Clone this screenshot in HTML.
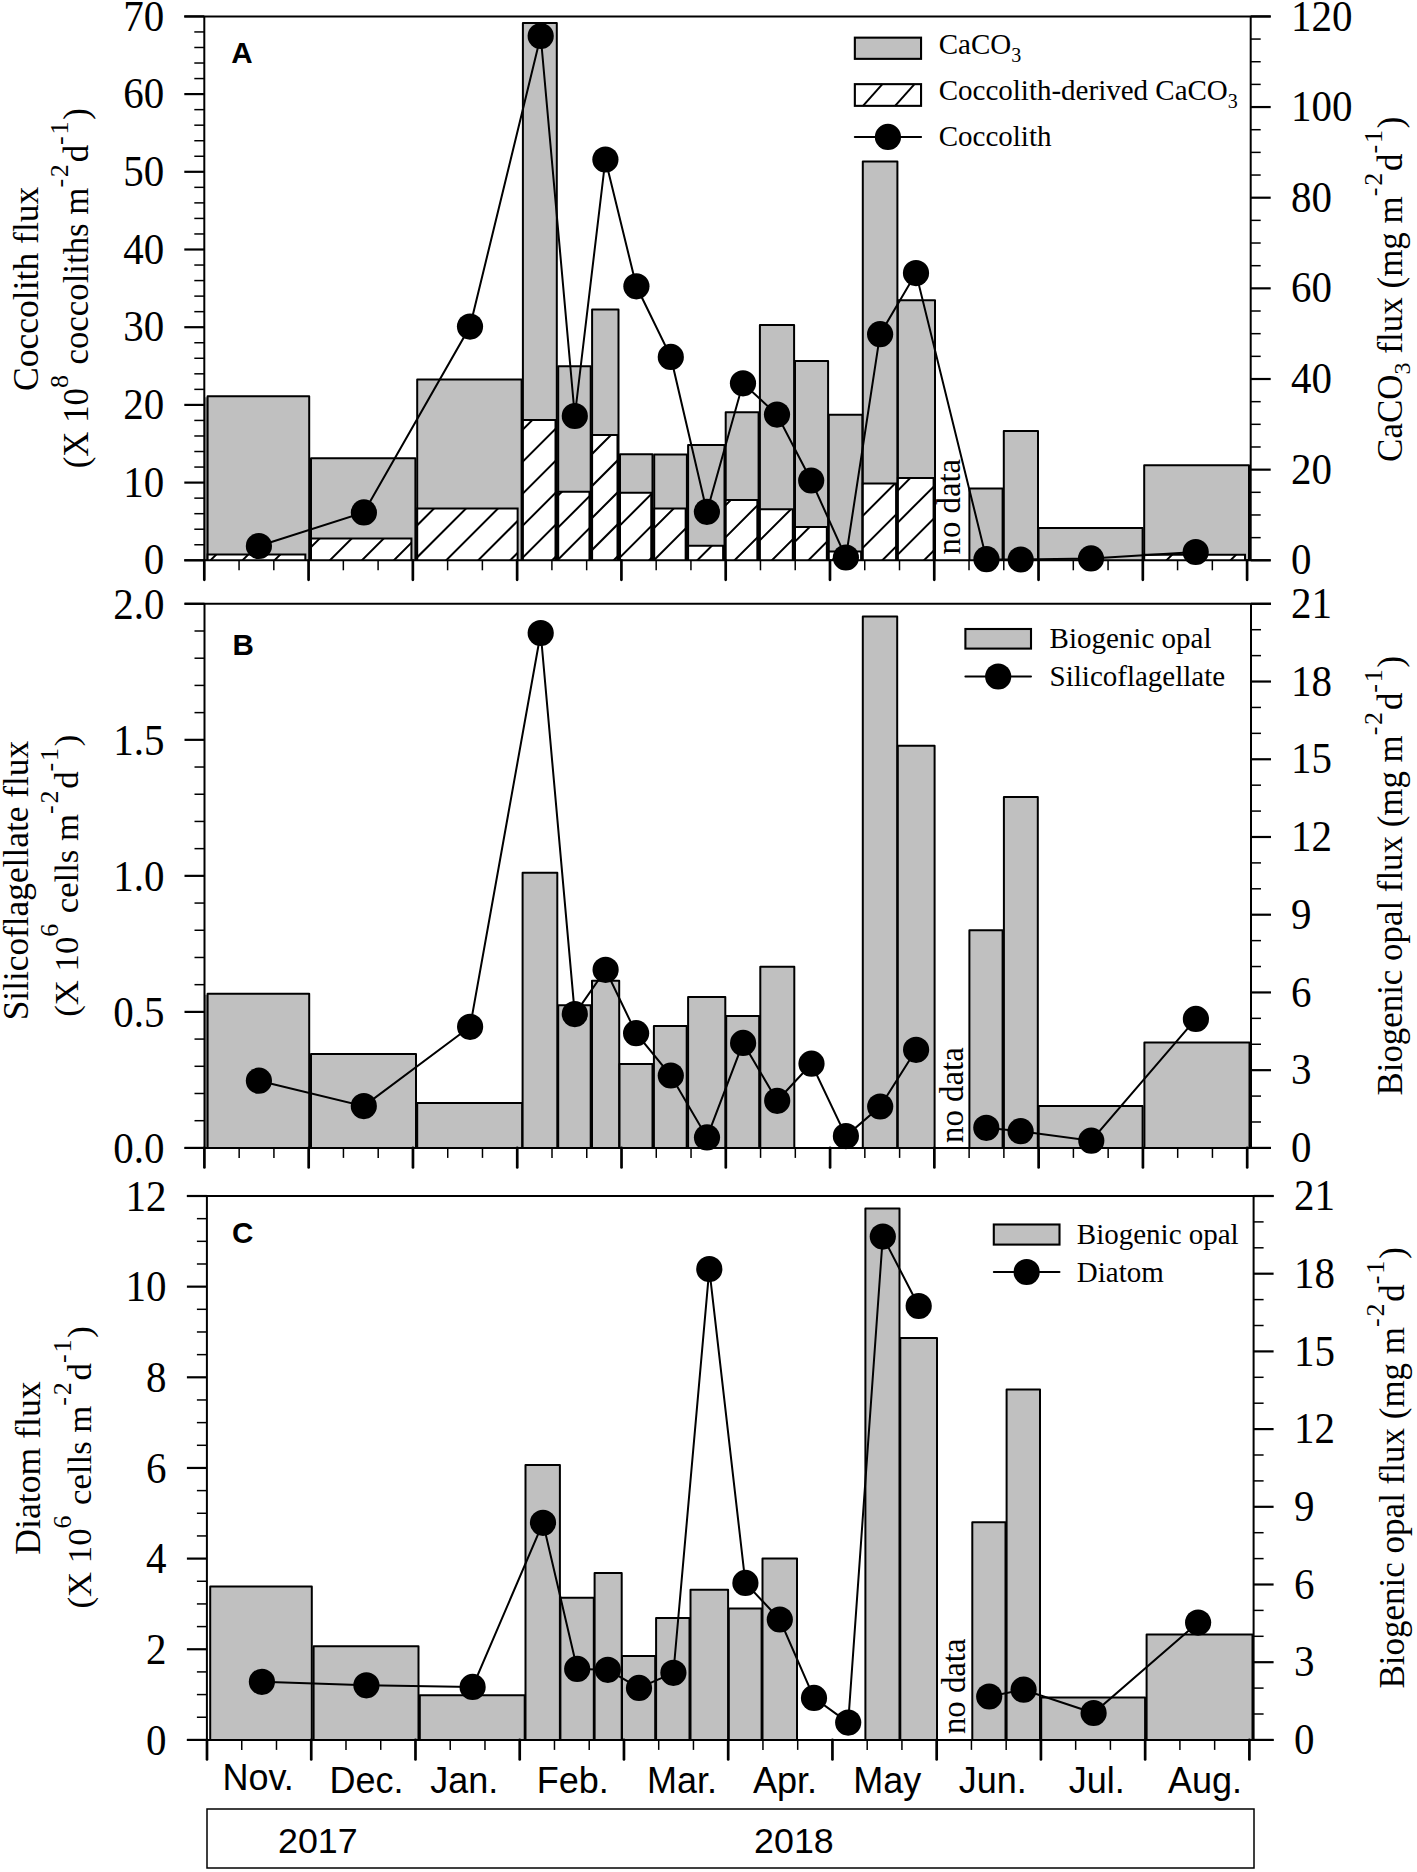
<!DOCTYPE html><html><head><meta charset="utf-8"><style>html,body{margin:0;padding:0;background:#fff;}svg{display:block;}</style></head><body><svg width="1417" height="1872" viewBox="0 0 1417 1872">
<rect width="1417" height="1872" fill="#fff"/>
<rect x="204.3" y="397.3" width="3.3" height="163" fill="#999"/>
<path d="M207.6 560.3V396.3H309.2V560.3" fill="#c0c0c0" stroke="#000" stroke-width="2.0" stroke-linejoin="round"/>
<path d="M311 560.3V458.3H415.4V560.3" fill="#c0c0c0" stroke="#000" stroke-width="2.0" stroke-linejoin="round"/>
<path d="M417.2 560.3V379.6H521.6V560.3" fill="#c0c0c0" stroke="#000" stroke-width="2.0" stroke-linejoin="round"/>
<path d="M522.9 560.3V23.1H556.8V560.3" fill="#c0c0c0" stroke="#000" stroke-width="2.0" stroke-linejoin="round"/>
<path d="M558.2 560.3V366.2H590.7V560.3" fill="#c0c0c0" stroke="#000" stroke-width="2.0" stroke-linejoin="round"/>
<path d="M592.1 560.3V309.6H618.5V560.3" fill="#c0c0c0" stroke="#000" stroke-width="2.0" stroke-linejoin="round"/>
<path d="M620 560.3V454.2H652.5V560.3" fill="#c0c0c0" stroke="#000" stroke-width="2.0" stroke-linejoin="round"/>
<path d="M654.2 560.3V454.5H686.9V560.3" fill="#c0c0c0" stroke="#000" stroke-width="2.0" stroke-linejoin="round"/>
<path d="M688.1 560.3V444.9H724.5V560.3" fill="#c0c0c0" stroke="#000" stroke-width="2.0" stroke-linejoin="round"/>
<path d="M725.7 560.3V412.3H758.6V560.3" fill="#c0c0c0" stroke="#000" stroke-width="2.0" stroke-linejoin="round"/>
<path d="M759.9 560.3V324.9H794.1V560.3" fill="#c0c0c0" stroke="#000" stroke-width="2.0" stroke-linejoin="round"/>
<path d="M795 560.3V360.9H828.1V560.3" fill="#c0c0c0" stroke="#000" stroke-width="2.0" stroke-linejoin="round"/>
<path d="M828.8 560.3V414.8H862.4V560.3" fill="#c0c0c0" stroke="#000" stroke-width="2.0" stroke-linejoin="round"/>
<path d="M862.8 560.3V161.5H897.4V560.3" fill="#c0c0c0" stroke="#000" stroke-width="2.0" stroke-linejoin="round"/>
<path d="M897.9 560.3V300.3H935V560.3" fill="#c0c0c0" stroke="#000" stroke-width="2.0" stroke-linejoin="round"/>
<path d="M969.4 560.3V488.6H1002.6V560.3" fill="#c0c0c0" stroke="#000" stroke-width="2.0" stroke-linejoin="round"/>
<path d="M1003.8 560.3V431H1038V560.3" fill="#c0c0c0" stroke="#000" stroke-width="2.0" stroke-linejoin="round"/>
<path d="M1038.5 560.3V527.9H1142.6V560.3" fill="#c0c0c0" stroke="#000" stroke-width="2.0" stroke-linejoin="round"/>
<path d="M1144.2 560.3V465.3H1249V560.3" fill="#c0c0c0" stroke="#000" stroke-width="2.0" stroke-linejoin="round"/>
<clipPath id="hc1"><rect x="207.6" y="554.4" width="97.74" height="5.9"/></clipPath>
<path d="M207.6 560.3V554.4H305.34V560.3Z" fill="#fff"/>
<path clip-path="url(#hc1)" d="M207.5 563.3L219.4 551.4M239.5 563.3L251.4 551.4M271.5 563.3L283.4 551.4M303.5 563.3L315.4 551.4" stroke="#000" stroke-width="2" fill="none"/>
<path d="M207.6 560.3V554.4H305.34V560.3" fill="none" stroke="#000" stroke-width="2.0"/>
<clipPath id="hc2"><rect x="311" y="538.6" width="100.43" height="21.7"/></clipPath>
<path d="M311 560.3V538.6H411.43V560.3Z" fill="#fff"/>
<path clip-path="url(#hc2)" d="M294.9 563.3L322.6 535.6M326.9 563.3L354.6 535.6M358.9 563.3L386.6 535.6M390.9 563.3L418.6 535.6" stroke="#000" stroke-width="2" fill="none"/>
<path d="M311 560.3V538.6H411.43V560.3" fill="none" stroke="#000" stroke-width="2.0"/>
<clipPath id="hc3"><rect x="417.2" y="508.6" width="100.43" height="51.7"/></clipPath>
<path d="M417.2 560.3V508.6H517.63V560.3Z" fill="#fff"/>
<path clip-path="url(#hc3)" d="M379.2 563.3L436.9 505.6M411.2 563.3L468.9 505.6M443.2 563.3L500.9 505.6M475.2 563.3L532.9 505.6M507.2 563.3L564.9 505.6" stroke="#000" stroke-width="2" fill="none"/>
<path d="M417.2 560.3V508.6H517.63V560.3" fill="none" stroke="#000" stroke-width="2.0"/>
<clipPath id="hc4"><rect x="522.9" y="419.9" width="32.61" height="140.4"/></clipPath>
<path d="M522.9 560.3V419.9H555.51V560.3Z" fill="#fff"/>
<path clip-path="url(#hc4)" d="M389.1 563.3L535.5 416.9M421.1 563.3L567.5 416.9M453.1 563.3L599.5 416.9M485.1 563.3L631.5 416.9M517.1 563.3L663.5 416.9M549.1 563.3L695.5 416.9" stroke="#000" stroke-width="2" fill="none"/>
<path d="M522.9 560.3V419.9H555.51V560.3" fill="none" stroke="#000" stroke-width="2.0"/>
<clipPath id="hc5"><rect x="558.2" y="491.8" width="31.26" height="68.5"/></clipPath>
<path d="M558.2 560.3V491.8H589.47V560.3Z" fill="#fff"/>
<path clip-path="url(#hc5)" d="M490.4 563.3L564.9 488.8M522.4 563.3L596.9 488.8M554.4 563.3L628.9 488.8M586.4 563.3L660.9 488.8" stroke="#000" stroke-width="2" fill="none"/>
<path d="M558.2 560.3V491.8H589.47V560.3" fill="none" stroke="#000" stroke-width="2.0"/>
<clipPath id="hc6"><rect x="592.1" y="435.1" width="25.4" height="125.2"/></clipPath>
<path d="M592.1 560.3V435.1H617.5V560.3Z" fill="#fff"/>
<path clip-path="url(#hc6)" d="M482.7 563.3L613.9 432.1M514.7 563.3L645.9 432.1M546.7 563.3L677.9 432.1M578.7 563.3L709.9 432.1M610.7 563.3L741.9 432.1" stroke="#000" stroke-width="2" fill="none"/>
<path d="M592.1 560.3V435.1H617.5V560.3" fill="none" stroke="#000" stroke-width="2.0"/>
<clipPath id="hc7"><rect x="620" y="492.8" width="31.26" height="67.5"/></clipPath>
<path d="M620 560.3V492.8H651.26V560.3Z" fill="#fff"/>
<path clip-path="url(#hc7)" d="M550.1 563.3L623.6 489.8M582.1 563.3L655.6 489.8M614.1 563.3L687.6 489.8M646.1 563.3L719.6 489.8" stroke="#000" stroke-width="2" fill="none"/>
<path d="M620 560.3V492.8H651.26V560.3" fill="none" stroke="#000" stroke-width="2.0"/>
<clipPath id="hc8"><rect x="654.2" y="508.4" width="31.46" height="51.9"/></clipPath>
<path d="M654.2 560.3V508.4H685.66V560.3Z" fill="#fff"/>
<path clip-path="url(#hc8)" d="M618.9 563.3L676.8 505.4M650.9 563.3L708.8 505.4M682.9 563.3L740.8 505.4" stroke="#000" stroke-width="2" fill="none"/>
<path d="M654.2 560.3V508.4H685.66V560.3" fill="none" stroke="#000" stroke-width="2.0"/>
<clipPath id="hc9"><rect x="688.1" y="545.7" width="35.02" height="14.6"/></clipPath>
<path d="M688.1 560.3V545.7H723.12V560.3Z" fill="#fff"/>
<path clip-path="url(#hc9)" d="M694.3 563.3L714.9 542.7" stroke="#000" stroke-width="2" fill="none"/>
<path d="M688.1 560.3V545.7H723.12V560.3" fill="none" stroke="#000" stroke-width="2.0"/>
<clipPath id="hc10"><rect x="725.7" y="499.9" width="31.65" height="60.4"/></clipPath>
<path d="M725.7 560.3V499.9H757.35V560.3Z" fill="#fff"/>
<path clip-path="url(#hc10)" d="M667.5 563.3L733.9 496.9M699.5 563.3L765.9 496.9M731.5 563.3L797.9 496.9" stroke="#000" stroke-width="2" fill="none"/>
<path d="M725.7 560.3V499.9H757.35V560.3" fill="none" stroke="#000" stroke-width="2.0"/>
<clipPath id="hc11"><rect x="759.9" y="509.2" width="32.9" height="51.1"/></clipPath>
<path d="M759.9 560.3V509.2H792.8V560.3Z" fill="#fff"/>
<path clip-path="url(#hc11)" d="M704.9 563.3L762 506.2M736.9 563.3L794 506.2M768.9 563.3L826 506.2" stroke="#000" stroke-width="2" fill="none"/>
<path d="M759.9 560.3V509.2H792.8V560.3" fill="none" stroke="#000" stroke-width="2.0"/>
<clipPath id="hc12"><rect x="795" y="527" width="31.84" height="33.3"/></clipPath>
<path d="M795 560.3V527H826.84V560.3Z" fill="#fff"/>
<path clip-path="url(#hc12)" d="M773.4 563.3L812.7 524M805.4 563.3L844.7 524" stroke="#000" stroke-width="2" fill="none"/>
<path d="M795 560.3V527H826.84V560.3" fill="none" stroke="#000" stroke-width="2.0"/>
<clipPath id="hc13"><rect x="828.8" y="551.6" width="32.32" height="8.7"/></clipPath>
<path d="M828.8 560.3V551.6H861.12V560.3Z" fill="#fff"/>
<path clip-path="url(#hc13)" d="M829.1 563.3L843.8 548.6M861.1 563.3L875.8 548.6" stroke="#000" stroke-width="2" fill="none"/>
<path d="M828.8 560.3V551.6H861.12V560.3" fill="none" stroke="#000" stroke-width="2.0"/>
<clipPath id="hc14"><rect x="862.8" y="483.5" width="33.29" height="76.8"/></clipPath>
<path d="M862.8 560.3V483.5H896.09V560.3Z" fill="#fff"/>
<path clip-path="url(#hc14)" d="M783.3 563.3L866.1 480.5M815.3 563.3L898.1 480.5M847.3 563.3L930.1 480.5M879.3 563.3L962.1 480.5" stroke="#000" stroke-width="2" fill="none"/>
<path d="M862.8 560.3V483.5H896.09V560.3" fill="none" stroke="#000" stroke-width="2.0"/>
<clipPath id="hc15"><rect x="897.9" y="477.9" width="35.69" height="82.4"/></clipPath>
<path d="M897.9 560.3V477.9H933.59V560.3Z" fill="#fff"/>
<path clip-path="url(#hc15)" d="M825 563.3L913.4 474.9M857 563.3L945.4 474.9M889 563.3L977.4 474.9M921 563.3L1009.4 474.9" stroke="#000" stroke-width="2" fill="none"/>
<path d="M897.9 560.3V477.9H933.59V560.3" fill="none" stroke="#000" stroke-width="2.0"/>
<clipPath id="hc16"><rect x="1144.2" y="554.8" width="100.82" height="5.5"/></clipPath>
<path d="M1144.2 560.3V554.8H1245.02V560.3Z" fill="#fff"/>
<path clip-path="url(#hc16)" d="M1131.5 563.3L1143 551.8M1163.5 563.3L1175 551.8M1195.5 563.3L1207 551.8M1227.5 563.3L1239 551.8" stroke="#000" stroke-width="2" fill="none"/>
<path d="M1144.2 560.3V554.8H1245.02V560.3" fill="none" stroke="#000" stroke-width="2.0"/>
<path d="M258.9 546L363.9 512.4L470 326.6L540.7 36L574.8 416L605.4 159.5L636.4 286.3L670.8 356.9L706.9 511.8L743 383.3L777 414.6L811.2 480.5L845.9 557.5L880.1 334.2L916 273.1L986.5 559.2L1020.7 559.5L1091 558.4L1195.7 552" fill="none" stroke="#000" stroke-width="2.0" stroke-linejoin="miter"/>
<circle cx="258.9" cy="546" r="13.1"/>
<circle cx="363.9" cy="512.4" r="13.1"/>
<circle cx="470" cy="326.6" r="13.1"/>
<circle cx="540.7" cy="36" r="13.1"/>
<circle cx="574.8" cy="416" r="13.1"/>
<circle cx="605.4" cy="159.5" r="13.1"/>
<circle cx="636.4" cy="286.3" r="13.1"/>
<circle cx="670.8" cy="356.9" r="13.1"/>
<circle cx="706.9" cy="511.8" r="13.1"/>
<circle cx="743" cy="383.3" r="13.1"/>
<circle cx="777" cy="414.6" r="13.1"/>
<circle cx="811.2" cy="480.5" r="13.1"/>
<circle cx="845.9" cy="557.5" r="13.1"/>
<circle cx="880.1" cy="334.2" r="13.1"/>
<circle cx="916" cy="273.1" r="13.1"/>
<circle cx="986.5" cy="559.2" r="13.1"/>
<circle cx="1020.7" cy="559.5" r="13.1"/>
<circle cx="1091" cy="558.4" r="13.1"/>
<circle cx="1195.7" cy="552" r="13.1"/>
<line x1="184.3" y1="16.4" x2="1270.7" y2="16.4" stroke="#000" stroke-width="2.0" stroke-linecap="butt"/>
<line x1="184.3" y1="560.3" x2="1270.7" y2="560.3" stroke="#000" stroke-width="2.0" stroke-linecap="butt"/>
<line x1="204.3" y1="16.4" x2="204.3" y2="560.3" stroke="#000" stroke-width="2.0" stroke-linecap="butt"/>
<line x1="1250.7" y1="16.4" x2="1250.7" y2="560.3" stroke="#000" stroke-width="2.0" stroke-linecap="butt"/>
<line x1="184.3" y1="560.3" x2="204.3" y2="560.3" stroke="#000" stroke-width="2.2" stroke-linecap="butt"/>
<line x1="194.3" y1="544.76" x2="204.3" y2="544.76" stroke="#000" stroke-width="1.5" stroke-linecap="butt"/>
<line x1="194.3" y1="529.22" x2="204.3" y2="529.22" stroke="#000" stroke-width="1.5" stroke-linecap="butt"/>
<line x1="194.3" y1="513.68" x2="204.3" y2="513.68" stroke="#000" stroke-width="1.5" stroke-linecap="butt"/>
<line x1="194.3" y1="498.14" x2="204.3" y2="498.14" stroke="#000" stroke-width="1.5" stroke-linecap="butt"/>
<line x1="184.3" y1="482.6" x2="204.3" y2="482.6" stroke="#000" stroke-width="2.2" stroke-linecap="butt"/>
<line x1="194.3" y1="467.06" x2="204.3" y2="467.06" stroke="#000" stroke-width="1.5" stroke-linecap="butt"/>
<line x1="194.3" y1="451.52" x2="204.3" y2="451.52" stroke="#000" stroke-width="1.5" stroke-linecap="butt"/>
<line x1="194.3" y1="435.98" x2="204.3" y2="435.98" stroke="#000" stroke-width="1.5" stroke-linecap="butt"/>
<line x1="194.3" y1="420.44" x2="204.3" y2="420.44" stroke="#000" stroke-width="1.5" stroke-linecap="butt"/>
<line x1="184.3" y1="404.9" x2="204.3" y2="404.9" stroke="#000" stroke-width="2.2" stroke-linecap="butt"/>
<line x1="194.3" y1="389.36" x2="204.3" y2="389.36" stroke="#000" stroke-width="1.5" stroke-linecap="butt"/>
<line x1="194.3" y1="373.82" x2="204.3" y2="373.82" stroke="#000" stroke-width="1.5" stroke-linecap="butt"/>
<line x1="194.3" y1="358.28" x2="204.3" y2="358.28" stroke="#000" stroke-width="1.5" stroke-linecap="butt"/>
<line x1="194.3" y1="342.74" x2="204.3" y2="342.74" stroke="#000" stroke-width="1.5" stroke-linecap="butt"/>
<line x1="184.3" y1="327.2" x2="204.3" y2="327.2" stroke="#000" stroke-width="2.2" stroke-linecap="butt"/>
<line x1="194.3" y1="311.66" x2="204.3" y2="311.66" stroke="#000" stroke-width="1.5" stroke-linecap="butt"/>
<line x1="194.3" y1="296.12" x2="204.3" y2="296.12" stroke="#000" stroke-width="1.5" stroke-linecap="butt"/>
<line x1="194.3" y1="280.58" x2="204.3" y2="280.58" stroke="#000" stroke-width="1.5" stroke-linecap="butt"/>
<line x1="194.3" y1="265.04" x2="204.3" y2="265.04" stroke="#000" stroke-width="1.5" stroke-linecap="butt"/>
<line x1="184.3" y1="249.5" x2="204.3" y2="249.5" stroke="#000" stroke-width="2.2" stroke-linecap="butt"/>
<line x1="194.3" y1="233.96" x2="204.3" y2="233.96" stroke="#000" stroke-width="1.5" stroke-linecap="butt"/>
<line x1="194.3" y1="218.42" x2="204.3" y2="218.42" stroke="#000" stroke-width="1.5" stroke-linecap="butt"/>
<line x1="194.3" y1="202.88" x2="204.3" y2="202.88" stroke="#000" stroke-width="1.5" stroke-linecap="butt"/>
<line x1="194.3" y1="187.34" x2="204.3" y2="187.34" stroke="#000" stroke-width="1.5" stroke-linecap="butt"/>
<line x1="184.3" y1="171.8" x2="204.3" y2="171.8" stroke="#000" stroke-width="2.2" stroke-linecap="butt"/>
<line x1="194.3" y1="156.26" x2="204.3" y2="156.26" stroke="#000" stroke-width="1.5" stroke-linecap="butt"/>
<line x1="194.3" y1="140.72" x2="204.3" y2="140.72" stroke="#000" stroke-width="1.5" stroke-linecap="butt"/>
<line x1="194.3" y1="125.18" x2="204.3" y2="125.18" stroke="#000" stroke-width="1.5" stroke-linecap="butt"/>
<line x1="194.3" y1="109.64" x2="204.3" y2="109.64" stroke="#000" stroke-width="1.5" stroke-linecap="butt"/>
<line x1="184.3" y1="94.1" x2="204.3" y2="94.1" stroke="#000" stroke-width="2.2" stroke-linecap="butt"/>
<line x1="194.3" y1="78.56" x2="204.3" y2="78.56" stroke="#000" stroke-width="1.5" stroke-linecap="butt"/>
<line x1="194.3" y1="63.02" x2="204.3" y2="63.02" stroke="#000" stroke-width="1.5" stroke-linecap="butt"/>
<line x1="194.3" y1="47.48" x2="204.3" y2="47.48" stroke="#000" stroke-width="1.5" stroke-linecap="butt"/>
<line x1="194.3" y1="31.94" x2="204.3" y2="31.94" stroke="#000" stroke-width="1.5" stroke-linecap="butt"/>
<line x1="184.3" y1="16.4" x2="204.3" y2="16.4" stroke="#000" stroke-width="2.2" stroke-linecap="butt"/>
<line x1="1250.7" y1="560.3" x2="1270.7" y2="560.3" stroke="#000" stroke-width="2.2" stroke-linecap="butt"/>
<line x1="1250.7" y1="537.64" x2="1260.7" y2="537.64" stroke="#000" stroke-width="1.5" stroke-linecap="butt"/>
<line x1="1250.7" y1="514.97" x2="1260.7" y2="514.97" stroke="#000" stroke-width="1.5" stroke-linecap="butt"/>
<line x1="1250.7" y1="492.31" x2="1260.7" y2="492.31" stroke="#000" stroke-width="1.5" stroke-linecap="butt"/>
<line x1="1250.7" y1="469.65" x2="1270.7" y2="469.65" stroke="#000" stroke-width="2.2" stroke-linecap="butt"/>
<line x1="1250.7" y1="446.99" x2="1260.7" y2="446.99" stroke="#000" stroke-width="1.5" stroke-linecap="butt"/>
<line x1="1250.7" y1="424.32" x2="1260.7" y2="424.32" stroke="#000" stroke-width="1.5" stroke-linecap="butt"/>
<line x1="1250.7" y1="401.66" x2="1260.7" y2="401.66" stroke="#000" stroke-width="1.5" stroke-linecap="butt"/>
<line x1="1250.7" y1="379" x2="1270.7" y2="379" stroke="#000" stroke-width="2.2" stroke-linecap="butt"/>
<line x1="1250.7" y1="356.34" x2="1260.7" y2="356.34" stroke="#000" stroke-width="1.5" stroke-linecap="butt"/>
<line x1="1250.7" y1="333.67" x2="1260.7" y2="333.67" stroke="#000" stroke-width="1.5" stroke-linecap="butt"/>
<line x1="1250.7" y1="311.01" x2="1260.7" y2="311.01" stroke="#000" stroke-width="1.5" stroke-linecap="butt"/>
<line x1="1250.7" y1="288.35" x2="1270.7" y2="288.35" stroke="#000" stroke-width="2.2" stroke-linecap="butt"/>
<line x1="1250.7" y1="265.69" x2="1260.7" y2="265.69" stroke="#000" stroke-width="1.5" stroke-linecap="butt"/>
<line x1="1250.7" y1="243.02" x2="1260.7" y2="243.02" stroke="#000" stroke-width="1.5" stroke-linecap="butt"/>
<line x1="1250.7" y1="220.36" x2="1260.7" y2="220.36" stroke="#000" stroke-width="1.5" stroke-linecap="butt"/>
<line x1="1250.7" y1="197.7" x2="1270.7" y2="197.7" stroke="#000" stroke-width="2.2" stroke-linecap="butt"/>
<line x1="1250.7" y1="175.04" x2="1260.7" y2="175.04" stroke="#000" stroke-width="1.5" stroke-linecap="butt"/>
<line x1="1250.7" y1="152.38" x2="1260.7" y2="152.38" stroke="#000" stroke-width="1.5" stroke-linecap="butt"/>
<line x1="1250.7" y1="129.71" x2="1260.7" y2="129.71" stroke="#000" stroke-width="1.5" stroke-linecap="butt"/>
<line x1="1250.7" y1="107.05" x2="1270.7" y2="107.05" stroke="#000" stroke-width="2.2" stroke-linecap="butt"/>
<line x1="1250.7" y1="84.39" x2="1260.7" y2="84.39" stroke="#000" stroke-width="1.5" stroke-linecap="butt"/>
<line x1="1250.7" y1="61.72" x2="1260.7" y2="61.72" stroke="#000" stroke-width="1.5" stroke-linecap="butt"/>
<line x1="1250.7" y1="39.06" x2="1260.7" y2="39.06" stroke="#000" stroke-width="1.5" stroke-linecap="butt"/>
<line x1="1250.7" y1="16.4" x2="1270.7" y2="16.4" stroke="#000" stroke-width="2.2" stroke-linecap="butt"/>
<line x1="204.3" y1="560.3" x2="204.3" y2="579.8" stroke="#000" stroke-width="2.7" stroke-linecap="round"/>
<line x1="239.06" y1="560.3" x2="239.06" y2="570.3" stroke="#000" stroke-width="1.5" stroke-linecap="butt"/>
<line x1="273.82" y1="560.3" x2="273.82" y2="570.3" stroke="#000" stroke-width="1.5" stroke-linecap="butt"/>
<line x1="308.58" y1="560.3" x2="308.58" y2="579.8" stroke="#000" stroke-width="2.7" stroke-linecap="round"/>
<line x1="343.34" y1="560.3" x2="343.34" y2="570.3" stroke="#000" stroke-width="1.5" stroke-linecap="butt"/>
<line x1="378.1" y1="560.3" x2="378.1" y2="570.3" stroke="#000" stroke-width="1.5" stroke-linecap="butt"/>
<line x1="412.86" y1="560.3" x2="412.86" y2="579.8" stroke="#000" stroke-width="2.7" stroke-linecap="round"/>
<line x1="447.62" y1="560.3" x2="447.62" y2="570.3" stroke="#000" stroke-width="1.5" stroke-linecap="butt"/>
<line x1="482.38" y1="560.3" x2="482.38" y2="570.3" stroke="#000" stroke-width="1.5" stroke-linecap="butt"/>
<line x1="517.14" y1="560.3" x2="517.14" y2="579.8" stroke="#000" stroke-width="2.7" stroke-linecap="round"/>
<line x1="551.9" y1="560.3" x2="551.9" y2="570.3" stroke="#000" stroke-width="1.5" stroke-linecap="butt"/>
<line x1="586.66" y1="560.3" x2="586.66" y2="570.3" stroke="#000" stroke-width="1.5" stroke-linecap="butt"/>
<line x1="621.42" y1="560.3" x2="621.42" y2="579.8" stroke="#000" stroke-width="2.7" stroke-linecap="round"/>
<line x1="656.18" y1="560.3" x2="656.18" y2="570.3" stroke="#000" stroke-width="1.5" stroke-linecap="butt"/>
<line x1="690.94" y1="560.3" x2="690.94" y2="570.3" stroke="#000" stroke-width="1.5" stroke-linecap="butt"/>
<line x1="725.7" y1="560.3" x2="725.7" y2="579.8" stroke="#000" stroke-width="2.7" stroke-linecap="round"/>
<line x1="760.46" y1="560.3" x2="760.46" y2="570.3" stroke="#000" stroke-width="1.5" stroke-linecap="butt"/>
<line x1="795.22" y1="560.3" x2="795.22" y2="570.3" stroke="#000" stroke-width="1.5" stroke-linecap="butt"/>
<line x1="829.98" y1="560.3" x2="829.98" y2="579.8" stroke="#000" stroke-width="2.7" stroke-linecap="round"/>
<line x1="864.74" y1="560.3" x2="864.74" y2="570.3" stroke="#000" stroke-width="1.5" stroke-linecap="butt"/>
<line x1="899.5" y1="560.3" x2="899.5" y2="570.3" stroke="#000" stroke-width="1.5" stroke-linecap="butt"/>
<line x1="934.26" y1="560.3" x2="934.26" y2="579.8" stroke="#000" stroke-width="2.7" stroke-linecap="round"/>
<line x1="969.02" y1="560.3" x2="969.02" y2="570.3" stroke="#000" stroke-width="1.5" stroke-linecap="butt"/>
<line x1="1003.78" y1="560.3" x2="1003.78" y2="570.3" stroke="#000" stroke-width="1.5" stroke-linecap="butt"/>
<line x1="1038.54" y1="560.3" x2="1038.54" y2="579.8" stroke="#000" stroke-width="2.7" stroke-linecap="round"/>
<line x1="1073.3" y1="560.3" x2="1073.3" y2="570.3" stroke="#000" stroke-width="1.5" stroke-linecap="butt"/>
<line x1="1108.06" y1="560.3" x2="1108.06" y2="570.3" stroke="#000" stroke-width="1.5" stroke-linecap="butt"/>
<line x1="1142.82" y1="560.3" x2="1142.82" y2="579.8" stroke="#000" stroke-width="2.7" stroke-linecap="round"/>
<line x1="1177.58" y1="560.3" x2="1177.58" y2="570.3" stroke="#000" stroke-width="1.5" stroke-linecap="butt"/>
<line x1="1212.34" y1="560.3" x2="1212.34" y2="570.3" stroke="#000" stroke-width="1.5" stroke-linecap="butt"/>
<line x1="1247.1" y1="560.3" x2="1247.1" y2="579.8" stroke="#000" stroke-width="2.7" stroke-linecap="round"/>
<rect x="204.5" y="994.8" width="3.1" height="153.1" fill="#999"/>
<path d="M207.6 1147.9V993.8H309.2V1147.9" fill="#c0c0c0" stroke="#000" stroke-width="2.0" stroke-linejoin="round"/>
<path d="M311 1147.9V1054H416V1147.9" fill="#c0c0c0" stroke="#000" stroke-width="2.0" stroke-linejoin="round"/>
<path d="M417.2 1147.9V1103H522.2V1147.9" fill="#c0c0c0" stroke="#000" stroke-width="2.0" stroke-linejoin="round"/>
<path d="M522.6 1147.9V872.7H557.3V1147.9" fill="#c0c0c0" stroke="#000" stroke-width="2.0" stroke-linejoin="round"/>
<path d="M558.2 1147.9V1005.3H590.7V1147.9" fill="#c0c0c0" stroke="#000" stroke-width="2.0" stroke-linejoin="round"/>
<path d="M592 1147.9V980.8H619.2V1147.9" fill="#c0c0c0" stroke="#000" stroke-width="2.0" stroke-linejoin="round"/>
<path d="M619.5 1147.9V1064H652.5V1147.9" fill="#c0c0c0" stroke="#000" stroke-width="2.0" stroke-linejoin="round"/>
<path d="M653.9 1147.9V1026.1H686.7V1147.9" fill="#c0c0c0" stroke="#000" stroke-width="2.0" stroke-linejoin="round"/>
<path d="M688.1 1147.9V997.1H725.3V1147.9" fill="#c0c0c0" stroke="#000" stroke-width="2.0" stroke-linejoin="round"/>
<path d="M726.2 1147.9V1016.1H759.2V1147.9" fill="#c0c0c0" stroke="#000" stroke-width="2.0" stroke-linejoin="round"/>
<path d="M760.3 1147.9V966.8H794.3V1147.9" fill="#c0c0c0" stroke="#000" stroke-width="2.0" stroke-linejoin="round"/>
<path d="M862.8 1147.9V616.4H897.2V1147.9" fill="#c0c0c0" stroke="#000" stroke-width="2.0" stroke-linejoin="round"/>
<path d="M897.8 1147.9V745.7H934.6V1147.9" fill="#c0c0c0" stroke="#000" stroke-width="2.0" stroke-linejoin="round"/>
<path d="M969.4 1147.9V930.2H1002.6V1147.9" fill="#c0c0c0" stroke="#000" stroke-width="2.0" stroke-linejoin="round"/>
<path d="M1003.9 1147.9V796.9H1037.8V1147.9" fill="#c0c0c0" stroke="#000" stroke-width="2.0" stroke-linejoin="round"/>
<path d="M1038.7 1147.9V1105.9H1142.6V1147.9" fill="#c0c0c0" stroke="#000" stroke-width="2.0" stroke-linejoin="round"/>
<path d="M1144.4 1147.9V1042.4H1249.5V1147.9" fill="#c0c0c0" stroke="#000" stroke-width="2.0" stroke-linejoin="round"/>
<path d="M258.9 1080.7L363.8 1106.1L470.1 1026.8L540.7 633L574.8 1014.1L605.6 969.8L636.1 1033.2L670.8 1075.5L707 1137.4L743.1 1042.9L777.2 1100.8L811.5 1063.7L845.9 1136.1L880.2 1106.5L916.1 1049.8M986.3 1127.8L1020.6 1131.2L1091.3 1140.7L1195.9 1018.9" fill="none" stroke="#000" stroke-width="2.0" stroke-linejoin="miter"/>
<circle cx="258.9" cy="1080.7" r="13.1"/>
<circle cx="363.8" cy="1106.1" r="13.1"/>
<circle cx="470.1" cy="1026.8" r="13.1"/>
<circle cx="540.7" cy="633" r="13.1"/>
<circle cx="574.8" cy="1014.1" r="13.1"/>
<circle cx="605.6" cy="969.8" r="13.1"/>
<circle cx="636.1" cy="1033.2" r="13.1"/>
<circle cx="670.8" cy="1075.5" r="13.1"/>
<circle cx="707" cy="1137.4" r="13.1"/>
<circle cx="743.1" cy="1042.9" r="13.1"/>
<circle cx="777.2" cy="1100.8" r="13.1"/>
<circle cx="811.5" cy="1063.7" r="13.1"/>
<circle cx="845.9" cy="1136.1" r="13.1"/>
<circle cx="880.2" cy="1106.5" r="13.1"/>
<circle cx="916.1" cy="1049.8" r="13.1"/>
<circle cx="986.3" cy="1127.8" r="13.1"/>
<circle cx="1020.6" cy="1131.2" r="13.1"/>
<circle cx="1091.3" cy="1140.7" r="13.1"/>
<circle cx="1195.9" cy="1018.9" r="13.1"/>
<line x1="184.5" y1="603.8" x2="1271" y2="603.8" stroke="#000" stroke-width="2.0" stroke-linecap="butt"/>
<line x1="184.5" y1="1147.9" x2="1271" y2="1147.9" stroke="#000" stroke-width="2.0" stroke-linecap="butt"/>
<line x1="204.5" y1="603.8" x2="204.5" y2="1147.9" stroke="#000" stroke-width="2.0" stroke-linecap="butt"/>
<line x1="1251" y1="603.8" x2="1251" y2="1147.9" stroke="#000" stroke-width="2.0" stroke-linecap="butt"/>
<line x1="184.5" y1="1147.9" x2="204.5" y2="1147.9" stroke="#000" stroke-width="2.2" stroke-linecap="butt"/>
<line x1="194.5" y1="1120.7" x2="204.5" y2="1120.7" stroke="#000" stroke-width="1.5" stroke-linecap="butt"/>
<line x1="194.5" y1="1093.49" x2="204.5" y2="1093.49" stroke="#000" stroke-width="1.5" stroke-linecap="butt"/>
<line x1="194.5" y1="1066.29" x2="204.5" y2="1066.29" stroke="#000" stroke-width="1.5" stroke-linecap="butt"/>
<line x1="194.5" y1="1039.08" x2="204.5" y2="1039.08" stroke="#000" stroke-width="1.5" stroke-linecap="butt"/>
<line x1="184.5" y1="1011.88" x2="204.5" y2="1011.88" stroke="#000" stroke-width="2.2" stroke-linecap="butt"/>
<line x1="194.5" y1="984.67" x2="204.5" y2="984.67" stroke="#000" stroke-width="1.5" stroke-linecap="butt"/>
<line x1="194.5" y1="957.47" x2="204.5" y2="957.47" stroke="#000" stroke-width="1.5" stroke-linecap="butt"/>
<line x1="194.5" y1="930.26" x2="204.5" y2="930.26" stroke="#000" stroke-width="1.5" stroke-linecap="butt"/>
<line x1="194.5" y1="903.06" x2="204.5" y2="903.06" stroke="#000" stroke-width="1.5" stroke-linecap="butt"/>
<line x1="184.5" y1="875.85" x2="204.5" y2="875.85" stroke="#000" stroke-width="2.2" stroke-linecap="butt"/>
<line x1="194.5" y1="848.64" x2="204.5" y2="848.64" stroke="#000" stroke-width="1.5" stroke-linecap="butt"/>
<line x1="194.5" y1="821.44" x2="204.5" y2="821.44" stroke="#000" stroke-width="1.5" stroke-linecap="butt"/>
<line x1="194.5" y1="794.24" x2="204.5" y2="794.24" stroke="#000" stroke-width="1.5" stroke-linecap="butt"/>
<line x1="194.5" y1="767.03" x2="204.5" y2="767.03" stroke="#000" stroke-width="1.5" stroke-linecap="butt"/>
<line x1="184.5" y1="739.83" x2="204.5" y2="739.83" stroke="#000" stroke-width="2.2" stroke-linecap="butt"/>
<line x1="194.5" y1="712.62" x2="204.5" y2="712.62" stroke="#000" stroke-width="1.5" stroke-linecap="butt"/>
<line x1="194.5" y1="685.41" x2="204.5" y2="685.41" stroke="#000" stroke-width="1.5" stroke-linecap="butt"/>
<line x1="194.5" y1="658.21" x2="204.5" y2="658.21" stroke="#000" stroke-width="1.5" stroke-linecap="butt"/>
<line x1="194.5" y1="631" x2="204.5" y2="631" stroke="#000" stroke-width="1.5" stroke-linecap="butt"/>
<line x1="184.5" y1="603.8" x2="204.5" y2="603.8" stroke="#000" stroke-width="2.2" stroke-linecap="butt"/>
<line x1="1251" y1="1147.9" x2="1271" y2="1147.9" stroke="#000" stroke-width="2.2" stroke-linecap="butt"/>
<line x1="1251" y1="1121.99" x2="1261" y2="1121.99" stroke="#000" stroke-width="1.5" stroke-linecap="butt"/>
<line x1="1251" y1="1096.08" x2="1261" y2="1096.08" stroke="#000" stroke-width="1.5" stroke-linecap="butt"/>
<line x1="1251" y1="1070.17" x2="1271" y2="1070.17" stroke="#000" stroke-width="2.2" stroke-linecap="butt"/>
<line x1="1251" y1="1044.26" x2="1261" y2="1044.26" stroke="#000" stroke-width="1.5" stroke-linecap="butt"/>
<line x1="1251" y1="1018.35" x2="1261" y2="1018.35" stroke="#000" stroke-width="1.5" stroke-linecap="butt"/>
<line x1="1251" y1="992.44" x2="1271" y2="992.44" stroke="#000" stroke-width="2.2" stroke-linecap="butt"/>
<line x1="1251" y1="966.53" x2="1261" y2="966.53" stroke="#000" stroke-width="1.5" stroke-linecap="butt"/>
<line x1="1251" y1="940.62" x2="1261" y2="940.62" stroke="#000" stroke-width="1.5" stroke-linecap="butt"/>
<line x1="1251" y1="914.71" x2="1271" y2="914.71" stroke="#000" stroke-width="2.2" stroke-linecap="butt"/>
<line x1="1251" y1="888.8" x2="1261" y2="888.8" stroke="#000" stroke-width="1.5" stroke-linecap="butt"/>
<line x1="1251" y1="862.9" x2="1261" y2="862.9" stroke="#000" stroke-width="1.5" stroke-linecap="butt"/>
<line x1="1251" y1="836.99" x2="1271" y2="836.99" stroke="#000" stroke-width="2.2" stroke-linecap="butt"/>
<line x1="1251" y1="811.08" x2="1261" y2="811.08" stroke="#000" stroke-width="1.5" stroke-linecap="butt"/>
<line x1="1251" y1="785.17" x2="1261" y2="785.17" stroke="#000" stroke-width="1.5" stroke-linecap="butt"/>
<line x1="1251" y1="759.26" x2="1271" y2="759.26" stroke="#000" stroke-width="2.2" stroke-linecap="butt"/>
<line x1="1251" y1="733.35" x2="1261" y2="733.35" stroke="#000" stroke-width="1.5" stroke-linecap="butt"/>
<line x1="1251" y1="707.44" x2="1261" y2="707.44" stroke="#000" stroke-width="1.5" stroke-linecap="butt"/>
<line x1="1251" y1="681.53" x2="1271" y2="681.53" stroke="#000" stroke-width="2.2" stroke-linecap="butt"/>
<line x1="1251" y1="655.62" x2="1261" y2="655.62" stroke="#000" stroke-width="1.5" stroke-linecap="butt"/>
<line x1="1251" y1="629.71" x2="1261" y2="629.71" stroke="#000" stroke-width="1.5" stroke-linecap="butt"/>
<line x1="1251" y1="603.8" x2="1271" y2="603.8" stroke="#000" stroke-width="2.2" stroke-linecap="butt"/>
<line x1="204.4" y1="1147.9" x2="204.4" y2="1167.4" stroke="#000" stroke-width="2.7" stroke-linecap="round"/>
<line x1="239.16" y1="1147.9" x2="239.16" y2="1157.9" stroke="#000" stroke-width="1.5" stroke-linecap="butt"/>
<line x1="273.92" y1="1147.9" x2="273.92" y2="1157.9" stroke="#000" stroke-width="1.5" stroke-linecap="butt"/>
<line x1="308.68" y1="1147.9" x2="308.68" y2="1167.4" stroke="#000" stroke-width="2.7" stroke-linecap="round"/>
<line x1="343.44" y1="1147.9" x2="343.44" y2="1157.9" stroke="#000" stroke-width="1.5" stroke-linecap="butt"/>
<line x1="378.2" y1="1147.9" x2="378.2" y2="1157.9" stroke="#000" stroke-width="1.5" stroke-linecap="butt"/>
<line x1="412.96" y1="1147.9" x2="412.96" y2="1167.4" stroke="#000" stroke-width="2.7" stroke-linecap="round"/>
<line x1="447.72" y1="1147.9" x2="447.72" y2="1157.9" stroke="#000" stroke-width="1.5" stroke-linecap="butt"/>
<line x1="482.48" y1="1147.9" x2="482.48" y2="1157.9" stroke="#000" stroke-width="1.5" stroke-linecap="butt"/>
<line x1="517.24" y1="1147.9" x2="517.24" y2="1167.4" stroke="#000" stroke-width="2.7" stroke-linecap="round"/>
<line x1="552" y1="1147.9" x2="552" y2="1157.9" stroke="#000" stroke-width="1.5" stroke-linecap="butt"/>
<line x1="586.76" y1="1147.9" x2="586.76" y2="1157.9" stroke="#000" stroke-width="1.5" stroke-linecap="butt"/>
<line x1="621.52" y1="1147.9" x2="621.52" y2="1167.4" stroke="#000" stroke-width="2.7" stroke-linecap="round"/>
<line x1="656.28" y1="1147.9" x2="656.28" y2="1157.9" stroke="#000" stroke-width="1.5" stroke-linecap="butt"/>
<line x1="691.04" y1="1147.9" x2="691.04" y2="1157.9" stroke="#000" stroke-width="1.5" stroke-linecap="butt"/>
<line x1="725.8" y1="1147.9" x2="725.8" y2="1167.4" stroke="#000" stroke-width="2.7" stroke-linecap="round"/>
<line x1="760.56" y1="1147.9" x2="760.56" y2="1157.9" stroke="#000" stroke-width="1.5" stroke-linecap="butt"/>
<line x1="795.32" y1="1147.9" x2="795.32" y2="1157.9" stroke="#000" stroke-width="1.5" stroke-linecap="butt"/>
<line x1="830.08" y1="1147.9" x2="830.08" y2="1167.4" stroke="#000" stroke-width="2.7" stroke-linecap="round"/>
<line x1="864.84" y1="1147.9" x2="864.84" y2="1157.9" stroke="#000" stroke-width="1.5" stroke-linecap="butt"/>
<line x1="899.6" y1="1147.9" x2="899.6" y2="1157.9" stroke="#000" stroke-width="1.5" stroke-linecap="butt"/>
<line x1="934.36" y1="1147.9" x2="934.36" y2="1167.4" stroke="#000" stroke-width="2.7" stroke-linecap="round"/>
<line x1="969.12" y1="1147.9" x2="969.12" y2="1157.9" stroke="#000" stroke-width="1.5" stroke-linecap="butt"/>
<line x1="1003.88" y1="1147.9" x2="1003.88" y2="1157.9" stroke="#000" stroke-width="1.5" stroke-linecap="butt"/>
<line x1="1038.64" y1="1147.9" x2="1038.64" y2="1167.4" stroke="#000" stroke-width="2.7" stroke-linecap="round"/>
<line x1="1073.4" y1="1147.9" x2="1073.4" y2="1157.9" stroke="#000" stroke-width="1.5" stroke-linecap="butt"/>
<line x1="1108.16" y1="1147.9" x2="1108.16" y2="1157.9" stroke="#000" stroke-width="1.5" stroke-linecap="butt"/>
<line x1="1142.92" y1="1147.9" x2="1142.92" y2="1167.4" stroke="#000" stroke-width="2.7" stroke-linecap="round"/>
<line x1="1177.68" y1="1147.9" x2="1177.68" y2="1157.9" stroke="#000" stroke-width="1.5" stroke-linecap="butt"/>
<line x1="1212.44" y1="1147.9" x2="1212.44" y2="1157.9" stroke="#000" stroke-width="1.5" stroke-linecap="butt"/>
<line x1="1247.2" y1="1147.9" x2="1247.2" y2="1167.4" stroke="#000" stroke-width="2.7" stroke-linecap="round"/>
<path d="M210.2 1739.9V1586.6H311.8V1739.9" fill="#c0c0c0" stroke="#000" stroke-width="2.0" stroke-linejoin="round"/>
<path d="M313.6 1739.9V1646.3H418.5V1739.9" fill="#c0c0c0" stroke="#000" stroke-width="2.0" stroke-linejoin="round"/>
<path d="M419.8 1739.9V1695.3H524.7V1739.9" fill="#c0c0c0" stroke="#000" stroke-width="2.0" stroke-linejoin="round"/>
<path d="M525.5 1739.9V1465.1H559.9V1739.9" fill="#c0c0c0" stroke="#000" stroke-width="2.0" stroke-linejoin="round"/>
<path d="M560.4 1739.9V1597.8H593.8V1739.9" fill="#c0c0c0" stroke="#000" stroke-width="2.0" stroke-linejoin="round"/>
<path d="M594.6 1739.9V1573H621.7V1739.9" fill="#c0c0c0" stroke="#000" stroke-width="2.0" stroke-linejoin="round"/>
<path d="M622 1739.9V1655.9H655.2V1739.9" fill="#c0c0c0" stroke="#000" stroke-width="2.0" stroke-linejoin="round"/>
<path d="M656.1 1739.9V1618.1H689.5V1739.9" fill="#c0c0c0" stroke="#000" stroke-width="2.0" stroke-linejoin="round"/>
<path d="M690.5 1739.9V1589.7H728.1V1739.9" fill="#c0c0c0" stroke="#000" stroke-width="2.0" stroke-linejoin="round"/>
<path d="M728.8 1739.9V1608.4H761.6V1739.9" fill="#c0c0c0" stroke="#000" stroke-width="2.0" stroke-linejoin="round"/>
<path d="M762.5 1739.9V1558.4H797V1739.9" fill="#c0c0c0" stroke="#000" stroke-width="2.0" stroke-linejoin="round"/>
<path d="M865.4 1739.9V1208.6H899.5V1739.9" fill="#c0c0c0" stroke="#000" stroke-width="2.0" stroke-linejoin="round"/>
<path d="M900.3 1739.9V1338.1H937V1739.9" fill="#c0c0c0" stroke="#000" stroke-width="2.0" stroke-linejoin="round"/>
<path d="M972.3 1739.9V1522.2H1005.5V1739.9" fill="#c0c0c0" stroke="#000" stroke-width="2.0" stroke-linejoin="round"/>
<path d="M1006.6 1739.9V1389.4H1040V1739.9" fill="#c0c0c0" stroke="#000" stroke-width="2.0" stroke-linejoin="round"/>
<path d="M1041.2 1739.9V1697.6H1145.1V1739.9" fill="#c0c0c0" stroke="#000" stroke-width="2.0" stroke-linejoin="round"/>
<path d="M1146.6 1739.9V1634.4H1252.5V1739.9" fill="#c0c0c0" stroke="#000" stroke-width="2.0" stroke-linejoin="round"/>
<path d="M261.9 1681.8L366.4 1685.3L472.6 1686.9L543 1522.8L577.2 1668.9L607.8 1669.8L639 1687.9L673.4 1672.8L709.3 1269.1L745.4 1582.9L779.8 1619.5L814 1697.9L848.2 1722.6L882.8 1236.6L918.7 1306M989.2 1696.5L1023.6 1689.7L1093.6 1713L1198.1 1622.6" fill="none" stroke="#000" stroke-width="2.0" stroke-linejoin="miter"/>
<circle cx="261.9" cy="1681.8" r="13.1"/>
<circle cx="366.4" cy="1685.3" r="13.1"/>
<circle cx="472.6" cy="1686.9" r="13.1"/>
<circle cx="543" cy="1522.8" r="13.1"/>
<circle cx="577.2" cy="1668.9" r="13.1"/>
<circle cx="607.8" cy="1669.8" r="13.1"/>
<circle cx="639" cy="1687.9" r="13.1"/>
<circle cx="673.4" cy="1672.8" r="13.1"/>
<circle cx="709.3" cy="1269.1" r="13.1"/>
<circle cx="745.4" cy="1582.9" r="13.1"/>
<circle cx="779.8" cy="1619.5" r="13.1"/>
<circle cx="814" cy="1697.9" r="13.1"/>
<circle cx="848.2" cy="1722.6" r="13.1"/>
<circle cx="882.8" cy="1236.6" r="13.1"/>
<circle cx="918.7" cy="1306" r="13.1"/>
<circle cx="989.2" cy="1696.5" r="13.1"/>
<circle cx="1023.6" cy="1689.7" r="13.1"/>
<circle cx="1093.6" cy="1713" r="13.1"/>
<circle cx="1198.1" cy="1622.6" r="13.1"/>
<line x1="186.9" y1="1196" x2="1273.6" y2="1196" stroke="#000" stroke-width="2.0" stroke-linecap="butt"/>
<line x1="186.9" y1="1739.9" x2="1273.6" y2="1739.9" stroke="#000" stroke-width="2.0" stroke-linecap="butt"/>
<line x1="206.9" y1="1196" x2="206.9" y2="1739.9" stroke="#000" stroke-width="2.0" stroke-linecap="butt"/>
<line x1="1253.6" y1="1196" x2="1253.6" y2="1739.9" stroke="#000" stroke-width="2.0" stroke-linecap="butt"/>
<line x1="186.9" y1="1739.9" x2="206.9" y2="1739.9" stroke="#000" stroke-width="2.2" stroke-linecap="butt"/>
<line x1="196.9" y1="1717.24" x2="206.9" y2="1717.24" stroke="#000" stroke-width="1.5" stroke-linecap="butt"/>
<line x1="196.9" y1="1694.58" x2="206.9" y2="1694.58" stroke="#000" stroke-width="1.5" stroke-linecap="butt"/>
<line x1="196.9" y1="1671.91" x2="206.9" y2="1671.91" stroke="#000" stroke-width="1.5" stroke-linecap="butt"/>
<line x1="186.9" y1="1649.25" x2="206.9" y2="1649.25" stroke="#000" stroke-width="2.2" stroke-linecap="butt"/>
<line x1="196.9" y1="1626.59" x2="206.9" y2="1626.59" stroke="#000" stroke-width="1.5" stroke-linecap="butt"/>
<line x1="196.9" y1="1603.93" x2="206.9" y2="1603.93" stroke="#000" stroke-width="1.5" stroke-linecap="butt"/>
<line x1="196.9" y1="1581.26" x2="206.9" y2="1581.26" stroke="#000" stroke-width="1.5" stroke-linecap="butt"/>
<line x1="186.9" y1="1558.6" x2="206.9" y2="1558.6" stroke="#000" stroke-width="2.2" stroke-linecap="butt"/>
<line x1="196.9" y1="1535.94" x2="206.9" y2="1535.94" stroke="#000" stroke-width="1.5" stroke-linecap="butt"/>
<line x1="196.9" y1="1513.28" x2="206.9" y2="1513.28" stroke="#000" stroke-width="1.5" stroke-linecap="butt"/>
<line x1="196.9" y1="1490.61" x2="206.9" y2="1490.61" stroke="#000" stroke-width="1.5" stroke-linecap="butt"/>
<line x1="186.9" y1="1467.95" x2="206.9" y2="1467.95" stroke="#000" stroke-width="2.2" stroke-linecap="butt"/>
<line x1="196.9" y1="1445.29" x2="206.9" y2="1445.29" stroke="#000" stroke-width="1.5" stroke-linecap="butt"/>
<line x1="196.9" y1="1422.62" x2="206.9" y2="1422.62" stroke="#000" stroke-width="1.5" stroke-linecap="butt"/>
<line x1="196.9" y1="1399.96" x2="206.9" y2="1399.96" stroke="#000" stroke-width="1.5" stroke-linecap="butt"/>
<line x1="186.9" y1="1377.3" x2="206.9" y2="1377.3" stroke="#000" stroke-width="2.2" stroke-linecap="butt"/>
<line x1="196.9" y1="1354.64" x2="206.9" y2="1354.64" stroke="#000" stroke-width="1.5" stroke-linecap="butt"/>
<line x1="196.9" y1="1331.98" x2="206.9" y2="1331.98" stroke="#000" stroke-width="1.5" stroke-linecap="butt"/>
<line x1="196.9" y1="1309.31" x2="206.9" y2="1309.31" stroke="#000" stroke-width="1.5" stroke-linecap="butt"/>
<line x1="186.9" y1="1286.65" x2="206.9" y2="1286.65" stroke="#000" stroke-width="2.2" stroke-linecap="butt"/>
<line x1="196.9" y1="1263.99" x2="206.9" y2="1263.99" stroke="#000" stroke-width="1.5" stroke-linecap="butt"/>
<line x1="196.9" y1="1241.33" x2="206.9" y2="1241.33" stroke="#000" stroke-width="1.5" stroke-linecap="butt"/>
<line x1="196.9" y1="1218.66" x2="206.9" y2="1218.66" stroke="#000" stroke-width="1.5" stroke-linecap="butt"/>
<line x1="186.9" y1="1196" x2="206.9" y2="1196" stroke="#000" stroke-width="2.2" stroke-linecap="butt"/>
<line x1="1253.6" y1="1739.9" x2="1273.6" y2="1739.9" stroke="#000" stroke-width="2.2" stroke-linecap="butt"/>
<line x1="1253.6" y1="1714" x2="1263.6" y2="1714" stroke="#000" stroke-width="1.5" stroke-linecap="butt"/>
<line x1="1253.6" y1="1688.1" x2="1263.6" y2="1688.1" stroke="#000" stroke-width="1.5" stroke-linecap="butt"/>
<line x1="1253.6" y1="1662.2" x2="1273.6" y2="1662.2" stroke="#000" stroke-width="2.2" stroke-linecap="butt"/>
<line x1="1253.6" y1="1636.3" x2="1263.6" y2="1636.3" stroke="#000" stroke-width="1.5" stroke-linecap="butt"/>
<line x1="1253.6" y1="1610.4" x2="1263.6" y2="1610.4" stroke="#000" stroke-width="1.5" stroke-linecap="butt"/>
<line x1="1253.6" y1="1584.5" x2="1273.6" y2="1584.5" stroke="#000" stroke-width="2.2" stroke-linecap="butt"/>
<line x1="1253.6" y1="1558.6" x2="1263.6" y2="1558.6" stroke="#000" stroke-width="1.5" stroke-linecap="butt"/>
<line x1="1253.6" y1="1532.7" x2="1263.6" y2="1532.7" stroke="#000" stroke-width="1.5" stroke-linecap="butt"/>
<line x1="1253.6" y1="1506.8" x2="1273.6" y2="1506.8" stroke="#000" stroke-width="2.2" stroke-linecap="butt"/>
<line x1="1253.6" y1="1480.9" x2="1263.6" y2="1480.9" stroke="#000" stroke-width="1.5" stroke-linecap="butt"/>
<line x1="1253.6" y1="1455" x2="1263.6" y2="1455" stroke="#000" stroke-width="1.5" stroke-linecap="butt"/>
<line x1="1253.6" y1="1429.1" x2="1273.6" y2="1429.1" stroke="#000" stroke-width="2.2" stroke-linecap="butt"/>
<line x1="1253.6" y1="1403.2" x2="1263.6" y2="1403.2" stroke="#000" stroke-width="1.5" stroke-linecap="butt"/>
<line x1="1253.6" y1="1377.3" x2="1263.6" y2="1377.3" stroke="#000" stroke-width="1.5" stroke-linecap="butt"/>
<line x1="1253.6" y1="1351.4" x2="1273.6" y2="1351.4" stroke="#000" stroke-width="2.2" stroke-linecap="butt"/>
<line x1="1253.6" y1="1325.5" x2="1263.6" y2="1325.5" stroke="#000" stroke-width="1.5" stroke-linecap="butt"/>
<line x1="1253.6" y1="1299.6" x2="1263.6" y2="1299.6" stroke="#000" stroke-width="1.5" stroke-linecap="butt"/>
<line x1="1253.6" y1="1273.7" x2="1273.6" y2="1273.7" stroke="#000" stroke-width="2.2" stroke-linecap="butt"/>
<line x1="1253.6" y1="1247.8" x2="1263.6" y2="1247.8" stroke="#000" stroke-width="1.5" stroke-linecap="butt"/>
<line x1="1253.6" y1="1221.9" x2="1263.6" y2="1221.9" stroke="#000" stroke-width="1.5" stroke-linecap="butt"/>
<line x1="1253.6" y1="1196" x2="1273.6" y2="1196" stroke="#000" stroke-width="2.2" stroke-linecap="butt"/>
<line x1="207" y1="1739.9" x2="207" y2="1759.4" stroke="#000" stroke-width="2.7" stroke-linecap="round"/>
<line x1="241.75" y1="1739.9" x2="241.75" y2="1749.9" stroke="#000" stroke-width="1.5" stroke-linecap="butt"/>
<line x1="276.49" y1="1739.9" x2="276.49" y2="1749.9" stroke="#000" stroke-width="1.5" stroke-linecap="butt"/>
<line x1="311.24" y1="1739.9" x2="311.24" y2="1759.4" stroke="#000" stroke-width="2.7" stroke-linecap="round"/>
<line x1="345.99" y1="1739.9" x2="345.99" y2="1749.9" stroke="#000" stroke-width="1.5" stroke-linecap="butt"/>
<line x1="380.73" y1="1739.9" x2="380.73" y2="1749.9" stroke="#000" stroke-width="1.5" stroke-linecap="butt"/>
<line x1="415.48" y1="1739.9" x2="415.48" y2="1759.4" stroke="#000" stroke-width="2.7" stroke-linecap="round"/>
<line x1="450.23" y1="1739.9" x2="450.23" y2="1749.9" stroke="#000" stroke-width="1.5" stroke-linecap="butt"/>
<line x1="484.97" y1="1739.9" x2="484.97" y2="1749.9" stroke="#000" stroke-width="1.5" stroke-linecap="butt"/>
<line x1="519.72" y1="1739.9" x2="519.72" y2="1759.4" stroke="#000" stroke-width="2.7" stroke-linecap="round"/>
<line x1="554.47" y1="1739.9" x2="554.47" y2="1749.9" stroke="#000" stroke-width="1.5" stroke-linecap="butt"/>
<line x1="589.21" y1="1739.9" x2="589.21" y2="1749.9" stroke="#000" stroke-width="1.5" stroke-linecap="butt"/>
<line x1="623.96" y1="1739.9" x2="623.96" y2="1759.4" stroke="#000" stroke-width="2.7" stroke-linecap="round"/>
<line x1="658.71" y1="1739.9" x2="658.71" y2="1749.9" stroke="#000" stroke-width="1.5" stroke-linecap="butt"/>
<line x1="693.45" y1="1739.9" x2="693.45" y2="1749.9" stroke="#000" stroke-width="1.5" stroke-linecap="butt"/>
<line x1="728.2" y1="1739.9" x2="728.2" y2="1759.4" stroke="#000" stroke-width="2.7" stroke-linecap="round"/>
<line x1="762.95" y1="1739.9" x2="762.95" y2="1749.9" stroke="#000" stroke-width="1.5" stroke-linecap="butt"/>
<line x1="797.69" y1="1739.9" x2="797.69" y2="1749.9" stroke="#000" stroke-width="1.5" stroke-linecap="butt"/>
<line x1="832.44" y1="1739.9" x2="832.44" y2="1759.4" stroke="#000" stroke-width="2.7" stroke-linecap="round"/>
<line x1="867.19" y1="1739.9" x2="867.19" y2="1749.9" stroke="#000" stroke-width="1.5" stroke-linecap="butt"/>
<line x1="901.93" y1="1739.9" x2="901.93" y2="1749.9" stroke="#000" stroke-width="1.5" stroke-linecap="butt"/>
<line x1="936.68" y1="1739.9" x2="936.68" y2="1759.4" stroke="#000" stroke-width="2.7" stroke-linecap="round"/>
<line x1="971.43" y1="1739.9" x2="971.43" y2="1749.9" stroke="#000" stroke-width="1.5" stroke-linecap="butt"/>
<line x1="1006.17" y1="1739.9" x2="1006.17" y2="1749.9" stroke="#000" stroke-width="1.5" stroke-linecap="butt"/>
<line x1="1040.92" y1="1739.9" x2="1040.92" y2="1759.4" stroke="#000" stroke-width="2.7" stroke-linecap="round"/>
<line x1="1075.67" y1="1739.9" x2="1075.67" y2="1749.9" stroke="#000" stroke-width="1.5" stroke-linecap="butt"/>
<line x1="1110.41" y1="1739.9" x2="1110.41" y2="1749.9" stroke="#000" stroke-width="1.5" stroke-linecap="butt"/>
<line x1="1145.16" y1="1739.9" x2="1145.16" y2="1759.4" stroke="#000" stroke-width="2.7" stroke-linecap="round"/>
<line x1="1179.91" y1="1739.9" x2="1179.91" y2="1749.9" stroke="#000" stroke-width="1.5" stroke-linecap="butt"/>
<line x1="1214.65" y1="1739.9" x2="1214.65" y2="1749.9" stroke="#000" stroke-width="1.5" stroke-linecap="butt"/>
<line x1="1249.4" y1="1739.9" x2="1249.4" y2="1759.4" stroke="#000" stroke-width="2.7" stroke-linecap="round"/>
<text x="0" y="0" font-family='"Liberation Serif", serif' font-size="41" text-anchor="end" font-weight="normal" transform="translate(164.3 574.4) scale(1 1.08)">0</text>
<text x="0" y="0" font-family='"Liberation Serif", serif' font-size="41" text-anchor="end" font-weight="normal" transform="translate(164.3 496.7) scale(1 1.08)">10</text>
<text x="0" y="0" font-family='"Liberation Serif", serif' font-size="41" text-anchor="end" font-weight="normal" transform="translate(164.3 419) scale(1 1.08)">20</text>
<text x="0" y="0" font-family='"Liberation Serif", serif' font-size="41" text-anchor="end" font-weight="normal" transform="translate(164.3 341.3) scale(1 1.08)">30</text>
<text x="0" y="0" font-family='"Liberation Serif", serif' font-size="41" text-anchor="end" font-weight="normal" transform="translate(164.3 263.6) scale(1 1.08)">40</text>
<text x="0" y="0" font-family='"Liberation Serif", serif' font-size="41" text-anchor="end" font-weight="normal" transform="translate(164.3 185.9) scale(1 1.08)">50</text>
<text x="0" y="0" font-family='"Liberation Serif", serif' font-size="41" text-anchor="end" font-weight="normal" transform="translate(164.3 108.2) scale(1 1.08)">60</text>
<text x="0" y="0" font-family='"Liberation Serif", serif' font-size="41" text-anchor="end" font-weight="normal" transform="translate(164.3 30.5) scale(1 1.08)">70</text>
<text x="0" y="0" font-family='"Liberation Serif", serif' font-size="41" text-anchor="end" font-weight="normal" transform="translate(164.5 1162.8) scale(1 1.08)">0.0</text>
<text x="0" y="0" font-family='"Liberation Serif", serif' font-size="41" text-anchor="end" font-weight="normal" transform="translate(164.5 1026.77) scale(1 1.08)">0.5</text>
<text x="0" y="0" font-family='"Liberation Serif", serif' font-size="41" text-anchor="end" font-weight="normal" transform="translate(164.5 890.75) scale(1 1.08)">1.0</text>
<text x="0" y="0" font-family='"Liberation Serif", serif' font-size="41" text-anchor="end" font-weight="normal" transform="translate(164.5 754.73) scale(1 1.08)">1.5</text>
<text x="0" y="0" font-family='"Liberation Serif", serif' font-size="41" text-anchor="end" font-weight="normal" transform="translate(164.5 618.7) scale(1 1.08)">2.0</text>
<text x="0" y="0" font-family='"Liberation Serif", serif' font-size="41" text-anchor="end" font-weight="normal" transform="translate(166.5 1754.5) scale(1 1.08)">0</text>
<text x="0" y="0" font-family='"Liberation Serif", serif' font-size="41" text-anchor="end" font-weight="normal" transform="translate(166.5 1663.85) scale(1 1.08)">2</text>
<text x="0" y="0" font-family='"Liberation Serif", serif' font-size="41" text-anchor="end" font-weight="normal" transform="translate(166.5 1573.2) scale(1 1.08)">4</text>
<text x="0" y="0" font-family='"Liberation Serif", serif' font-size="41" text-anchor="end" font-weight="normal" transform="translate(166.5 1482.55) scale(1 1.08)">6</text>
<text x="0" y="0" font-family='"Liberation Serif", serif' font-size="41" text-anchor="end" font-weight="normal" transform="translate(166.5 1391.9) scale(1 1.08)">8</text>
<text x="0" y="0" font-family='"Liberation Serif", serif' font-size="41" text-anchor="end" font-weight="normal" transform="translate(166.5 1301.25) scale(1 1.08)">10</text>
<text x="0" y="0" font-family='"Liberation Serif", serif' font-size="41" text-anchor="end" font-weight="normal" transform="translate(166.5 1210.6) scale(1 1.08)">12</text>
<text x="0" y="0" font-family='"Liberation Serif", serif' font-size="41" text-anchor="start" font-weight="normal" transform="translate(1291 574.4) scale(1 1.08)">0</text>
<text x="0" y="0" font-family='"Liberation Serif", serif' font-size="41" text-anchor="start" font-weight="normal" transform="translate(1291 483.75) scale(1 1.08)">20</text>
<text x="0" y="0" font-family='"Liberation Serif", serif' font-size="41" text-anchor="start" font-weight="normal" transform="translate(1291 393.1) scale(1 1.08)">40</text>
<text x="0" y="0" font-family='"Liberation Serif", serif' font-size="41" text-anchor="start" font-weight="normal" transform="translate(1291 302.45) scale(1 1.08)">60</text>
<text x="0" y="0" font-family='"Liberation Serif", serif' font-size="41" text-anchor="start" font-weight="normal" transform="translate(1291 211.8) scale(1 1.08)">80</text>
<text x="0" y="0" font-family='"Liberation Serif", serif' font-size="41" text-anchor="start" font-weight="normal" transform="translate(1291 121.15) scale(1 1.08)">100</text>
<text x="0" y="0" font-family='"Liberation Serif", serif' font-size="41" text-anchor="start" font-weight="normal" transform="translate(1291 30.5) scale(1 1.08)">120</text>
<text x="0" y="0" font-family='"Liberation Serif", serif' font-size="41" text-anchor="start" font-weight="normal" transform="translate(1291 1162) scale(1 1.08)">0</text>
<text x="0" y="0" font-family='"Liberation Serif", serif' font-size="41" text-anchor="start" font-weight="normal" transform="translate(1291 1084.27) scale(1 1.08)">3</text>
<text x="0" y="0" font-family='"Liberation Serif", serif' font-size="41" text-anchor="start" font-weight="normal" transform="translate(1291 1006.54) scale(1 1.08)">6</text>
<text x="0" y="0" font-family='"Liberation Serif", serif' font-size="41" text-anchor="start" font-weight="normal" transform="translate(1291 928.81) scale(1 1.08)">9</text>
<text x="0" y="0" font-family='"Liberation Serif", serif' font-size="41" text-anchor="start" font-weight="normal" transform="translate(1291 851.09) scale(1 1.08)">12</text>
<text x="0" y="0" font-family='"Liberation Serif", serif' font-size="41" text-anchor="start" font-weight="normal" transform="translate(1291 773.36) scale(1 1.08)">15</text>
<text x="0" y="0" font-family='"Liberation Serif", serif' font-size="41" text-anchor="start" font-weight="normal" transform="translate(1291 695.63) scale(1 1.08)">18</text>
<text x="0" y="0" font-family='"Liberation Serif", serif' font-size="41" text-anchor="start" font-weight="normal" transform="translate(1291 617.9) scale(1 1.08)">21</text>
<text x="0" y="0" font-family='"Liberation Serif", serif' font-size="41" text-anchor="start" font-weight="normal" transform="translate(1294 1754) scale(1 1.08)">0</text>
<text x="0" y="0" font-family='"Liberation Serif", serif' font-size="41" text-anchor="start" font-weight="normal" transform="translate(1294 1676.3) scale(1 1.08)">3</text>
<text x="0" y="0" font-family='"Liberation Serif", serif' font-size="41" text-anchor="start" font-weight="normal" transform="translate(1294 1598.6) scale(1 1.08)">6</text>
<text x="0" y="0" font-family='"Liberation Serif", serif' font-size="41" text-anchor="start" font-weight="normal" transform="translate(1294 1520.9) scale(1 1.08)">9</text>
<text x="0" y="0" font-family='"Liberation Serif", serif' font-size="41" text-anchor="start" font-weight="normal" transform="translate(1294 1443.2) scale(1 1.08)">12</text>
<text x="0" y="0" font-family='"Liberation Serif", serif' font-size="41" text-anchor="start" font-weight="normal" transform="translate(1294 1365.5) scale(1 1.08)">15</text>
<text x="0" y="0" font-family='"Liberation Serif", serif' font-size="41" text-anchor="start" font-weight="normal" transform="translate(1294 1287.8) scale(1 1.08)">18</text>
<text x="0" y="0" font-family='"Liberation Serif", serif' font-size="41" text-anchor="start" font-weight="normal" transform="translate(1294 1210.1) scale(1 1.08)">21</text>
<text x="231.2" y="63" font-family='"Liberation Sans", sans-serif' font-size="29.6" text-anchor="start" font-weight="bold">A</text>
<text x="232.6" y="654.8" font-family='"Liberation Sans", sans-serif' font-size="29.6" text-anchor="start" font-weight="bold">B</text>
<text x="232" y="1242.6" font-family='"Liberation Sans", sans-serif' font-size="29.6" text-anchor="start" font-weight="bold">C</text>
<text x="959.6" y="554.5" font-family='"Liberation Serif", serif' font-size="32.8" text-anchor="start" font-weight="normal" transform="rotate(-90 959.6 554.5)">no data</text>
<text x="962.7" y="1142.9" font-family='"Liberation Serif", serif' font-size="32.8" text-anchor="start" font-weight="normal" transform="rotate(-90 962.7 1142.9)">no data</text>
<text x="964.8" y="1734.1" font-family='"Liberation Serif", serif' font-size="32.8" text-anchor="start" font-weight="normal" transform="rotate(-90 964.8 1734.1)">no data</text>
<text x="222.48" y="1789.9" font-family='"Liberation Sans", sans-serif' font-size="36" text-anchor="start" font-weight="normal">Nov.</text>
<text x="329.58" y="1793.1" font-family='"Liberation Sans", sans-serif' font-size="36" text-anchor="start" font-weight="normal">Dec.</text>
<text x="430.33" y="1793" font-family='"Liberation Sans", sans-serif' font-size="36" text-anchor="start" font-weight="normal">Jan.</text>
<text x="536.68" y="1793.1" font-family='"Liberation Sans", sans-serif' font-size="36" text-anchor="start" font-weight="normal">Feb.</text>
<text x="646.97" y="1793" font-family='"Liberation Sans", sans-serif' font-size="36" text-anchor="start" font-weight="normal">Mar.</text>
<text x="752.9" y="1793" font-family='"Liberation Sans", sans-serif' font-size="36" text-anchor="start" font-weight="normal">Apr.</text>
<text x="853.27" y="1793" font-family='"Liberation Sans", sans-serif' font-size="36" text-anchor="start" font-weight="normal">May</text>
<text x="958.63" y="1793" font-family='"Liberation Sans", sans-serif' font-size="36" text-anchor="start" font-weight="normal">Jun.</text>
<text x="1068.63" y="1793.1" font-family='"Liberation Sans", sans-serif' font-size="36" text-anchor="start" font-weight="normal">Jul.</text>
<text x="1168" y="1793.1" font-family='"Liberation Sans", sans-serif' font-size="36" text-anchor="start" font-weight="normal">Aug.</text>
<rect x="207" y="1809" width="1047" height="59" fill="none" stroke="#000" stroke-width="1.5"/>
<text x="278" y="1853.1" font-family='"Liberation Sans", sans-serif' font-size="35.8" text-anchor="start" font-weight="normal">2017</text>
<text x="754.1" y="1853.1" font-family='"Liberation Sans", sans-serif' font-size="35.8" text-anchor="start" font-weight="normal">2018</text>
<rect x="854.85" y="37.65" width="66.2" height="21.2" fill="#c0c0c0" stroke="#000" stroke-width="2.1"/>
<rect x="854.85" y="84.15" width="66.2" height="21.7" fill="#fff" stroke="#000" stroke-width="2.1"/>
<line x1="863" y1="105.85" x2="882.4" y2="84.15" stroke="#000" stroke-width="2" stroke-linecap="butt"/>
<line x1="895.1" y1="105.85" x2="914.5" y2="84.15" stroke="#000" stroke-width="2" stroke-linecap="butt"/>
<line x1="854.8" y1="136.9" x2="921.1" y2="136.9" stroke="#000" stroke-width="2" stroke-linecap="round"/>
<circle cx="887.95" cy="136.9" r="13.1"/>
<text x="938.7" y="54.1" font-family='"Liberation Serif", serif' font-size="29" text-anchor="start" font-weight="normal">CaCO<tspan font-size="20" dy="8">3</tspan></text>
<text x="938.7" y="100" font-family='"Liberation Serif", serif' font-size="29" text-anchor="start" font-weight="normal">Coccolith-derived CaCO<tspan font-size="20" dy="8">3</tspan></text>
<text x="938.7" y="146" font-family='"Liberation Serif", serif' font-size="29" text-anchor="start" font-weight="normal">Coccolith</text>
<rect x="965.4" y="629" width="65.6" height="19.6" fill="#c0c0c0" stroke="#000" stroke-width="2.1"/>
<line x1="965.4" y1="676.5" x2="1031" y2="676.5" stroke="#000" stroke-width="2" stroke-linecap="round"/>
<circle cx="998.2" cy="676.5" r="13.1"/>
<text x="1049.6" y="648.4" font-family='"Liberation Serif", serif' font-size="29" text-anchor="start" font-weight="normal">Biogenic opal</text>
<text x="1049.6" y="686.3" font-family='"Liberation Serif", serif' font-size="29" text-anchor="start" font-weight="normal">Silicoflagellate</text>
<rect x="993.8" y="1224.5" width="65.7" height="20.1" fill="#c0c0c0" stroke="#000" stroke-width="2.1"/>
<line x1="993.8" y1="1272" x2="1059.5" y2="1272" stroke="#000" stroke-width="2" stroke-linecap="round"/>
<circle cx="1026.65" cy="1272" r="13.1"/>
<text x="1076.8" y="1243.9" font-family='"Liberation Serif", serif' font-size="29" text-anchor="start" font-weight="normal">Biogenic opal</text>
<text x="1076.8" y="1281.6" font-family='"Liberation Serif", serif' font-size="29" text-anchor="start" font-weight="normal">Diatom</text>
<text x="38.4" y="391" font-family='"Liberation Serif", serif' font-size="35.55" text-anchor="start" font-weight="normal" transform="rotate(-90 38.4 391)">Coccolith flux</text>
<text x="88.1" y="468.3" font-family='"Liberation Serif", serif' font-size="34.82" text-anchor="start" font-weight="normal" transform="rotate(-90 88.1 468.3)">(X 10<tspan font-size="26" dy="-20" letter-spacing="1.8">8</tspan><tspan dy="20"> coccoliths m</tspan><tspan font-size="26" dy="-20" letter-spacing="1.8">-2</tspan><tspan dy="20">d</tspan><tspan font-size="26" dy="-20" letter-spacing="1.8">-1</tspan><tspan dy="20">)</tspan></text>
<text x="27.8" y="1020.3" font-family='"Liberation Serif", serif' font-size="35.3" text-anchor="start" font-weight="normal" transform="rotate(-90 27.8 1020.3)">Silicoflagellate flux</text>
<text x="77.9" y="1016.7" font-family='"Liberation Serif", serif' font-size="34.7" text-anchor="start" font-weight="normal" transform="rotate(-90 77.9 1016.7)">(X 10<tspan font-size="26" dy="-20" letter-spacing="1.8">6</tspan><tspan dy="20"> cells m</tspan><tspan font-size="26" dy="-20" letter-spacing="1.8">-2</tspan><tspan dy="20">d</tspan><tspan font-size="26" dy="-20" letter-spacing="1.8">-1</tspan><tspan dy="20">)</tspan></text>
<text x="40.2" y="1554.7" font-family='"Liberation Serif", serif' font-size="35.69" text-anchor="start" font-weight="normal" transform="rotate(-90 40.2 1554.7)">Diatom flux</text>
<text x="91.3" y="1608.5" font-family='"Liberation Serif", serif' font-size="34.72" text-anchor="start" font-weight="normal" transform="rotate(-90 91.3 1608.5)">(X 10<tspan font-size="26" dy="-20" letter-spacing="1.8">6</tspan><tspan dy="20"> cells m</tspan><tspan font-size="26" dy="-20" letter-spacing="1.8">-2</tspan><tspan dy="20">d</tspan><tspan font-size="26" dy="-20" letter-spacing="1.8">-1</tspan><tspan dy="20">)</tspan></text>
<text x="1402.5" y="461.9" font-family='"Liberation Serif", serif' font-size="35" text-anchor="start" font-weight="normal" transform="rotate(-90 1402.5 461.9)">CaCO<tspan font-size="24" dy="8">3</tspan><tspan dy="-8"> flux (mg m</tspan><tspan font-size="26" dy="-20" letter-spacing="1.8">-2</tspan><tspan dy="20">d</tspan><tspan font-size="26" dy="-20" letter-spacing="1.8">-1</tspan><tspan dy="20">)</tspan></text>
<text x="1401.7" y="1095.5" font-family='"Liberation Serif", serif' font-size="34.87" text-anchor="start" font-weight="normal" transform="rotate(-90 1401.7 1095.5)">Biogenic opal flux (mg m<tspan font-size="26" dy="-20" letter-spacing="1.8">-2</tspan><tspan dy="20">d</tspan><tspan font-size="26" dy="-20" letter-spacing="1.8">-1</tspan><tspan dy="20">)</tspan></text>
<text x="1403.7" y="1688.5" font-family='"Liberation Serif", serif' font-size="35" text-anchor="start" font-weight="normal" transform="rotate(-90 1403.7 1688.5)">Biogenic opal flux (mg m<tspan font-size="26" dy="-20" letter-spacing="1.8">-2</tspan><tspan dy="20">d</tspan><tspan font-size="26" dy="-20" letter-spacing="1.8">-1</tspan><tspan dy="20">)</tspan></text>
</svg></body></html>
